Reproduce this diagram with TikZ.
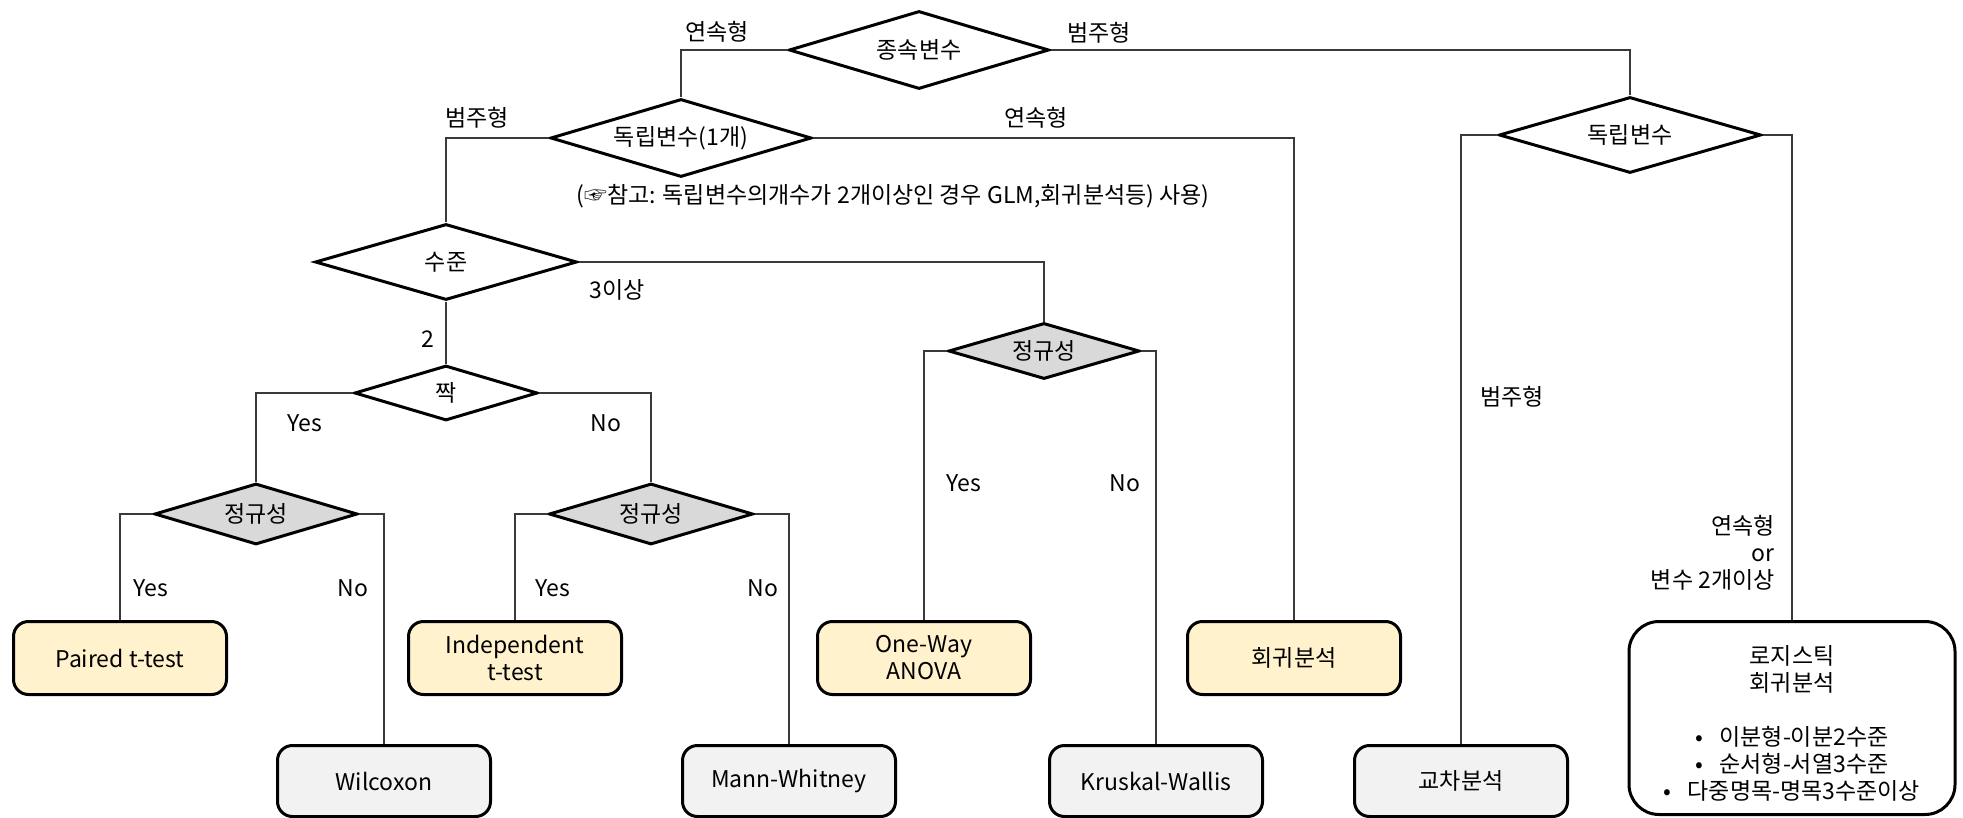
\documentclass[tikz,border=0pt]{standalone}
\usepackage{fontspec}
\setmainfont{Noto Sans CJK KR}
\usetikzlibrary{shapes.geometric}
\definecolor{leafy}{HTML}{FFF2CC}
\definecolor{leafg}{HTML}{F2F2F2}
\definecolor{dgray}{HTML}{D9D9D9}
\definecolor{conncol}{HTML}{3A3A3A}
\begin{document}
\begin{tikzpicture}[x=0.5pt,y=-0.5pt,
  font=\fontsize{11.5}{13.5}\selectfont,
  dec/.style={diamond, draw=black, line width=1.5pt, inner sep=0pt, aspect=3.3, fill=white},
  decg/.style={dec, fill=dgray},
  leafbox/.style={rectangle, rounded corners=7.5pt, draw=black, line width=1.5pt,
    minimum width=106.5pt, minimum height=36.5pt, align=center, inner sep=0pt},
  yleaf/.style={leafbox, fill=leafy},
  gleaf/.style={leafbox, fill=leafg, minimum height=35.5pt},
  conn/.style={draw=conncol, line width=0.7pt},
  lbl/.style={inner sep=0pt}]
\useasboundingbox (0,0) rectangle (1963,818);

% decision diamonds
\node[dec, minimum width=130pt, minimum height=39pt] (d0) at (919,50) {종속변수};
\node[dec, minimum width=130.5pt, minimum height=39pt] (d1) at (681,138) {독립변수(1개)};
\node[dec, minimum width=131pt, minimum height=38pt] (d2) at (1630,135) {독립변수};
\node[dec, minimum width=131pt, minimum height=38pt] (d3) at (446,262) {수준};
\node[dec, minimum width=91.5pt, minimum height=27.5pt] (d4) at (446,393) {짝};
\node[decg, minimum width=101.5pt, minimum height=30.5pt] (n1) at (256,514) {정규성};
\node[decg, minimum width=102pt, minimum height=30.5pt] (n2) at (651,514) {정규성};
\node[decg, minimum width=95.5pt, minimum height=28pt] (n3) at (1044,351) {정규성};

% leaves
\node[yleaf] (paired) at (120,658) {Paired t-test};
\node[yleaf] (indep) at (515,658) {Independent\\t-test};
\node[yleaf] (oneway) at (924,658) {One-Way\\ANOVA};
\node[yleaf] (reg) at (1294,658) {회귀분석};
\node[gleaf] (wilc) at (384,781) {Wilcoxon};
\node[gleaf] (mann) at (789,781) {Mann-Whitney};
\node[gleaf] (krus) at (1156,781) {Kruskal-Wallis};
\node[gleaf] (cross) at (1461,781) {교차분석};
\node[leafbox, rounded corners=15pt, fill=white, minimum width=163pt, minimum height=96.5pt]
  (logit) at (1792,718) {\rule{0pt}{15pt}로지스틱\\회귀분석\\[13.5pt]•\hspace{0.7em}이분형-이분2수준\\•\hspace{0.7em}순서형-서열3수준\\•\hspace{0.7em}다중명목-명목3수준이상};

% connectors
\draw[conn] (d0.west) -| (d1.north);
\draw[conn] (d0.east) -| (d2.north);
\draw[conn] (d1.west) -| (d3.north);
\draw[conn] (d1.east) -| (reg.north);
\draw[conn] (d2.west) -| (cross.north);
\draw[conn] (d2.east) -| (logit.north);
\draw[conn] (d3.east) -| (n3.north);
\draw[conn] (d3.south) -- (d4.north);
\draw[conn] (d4.west) -| (n1.north);
\draw[conn] (d4.east) -| (n2.north);
\draw[conn] (n1.west) -| (paired.north);
\draw[conn] (n1.east) -| (wilc.north);
\draw[conn] (n2.west) -| (indep.north);
\draw[conn] (n2.east) -| (mann.north);
\draw[conn] (n3.west) -| (oneway.north);
\draw[conn] (n3.east) -| (krus.north);

% labels
\node[lbl] (l1) at (717,32) {연속형};
\node[lbl] (l2) at (1099,33) {범주형};
\node[lbl] (l3) at (477,118) {범주형};
\node[lbl] (l4) at (1036,118) {연속형};
\node[lbl] (note) at (893,196) {(☞참고: 독립변수의개수가 2개이상인 경우 GLM,회귀분석등) 사용)};
\node[lbl] (l5) at (617,290) {3이상};
\node[lbl] (l6) at (428,339) {2};
\node[lbl] (y1) at (305,423) {Yes};
\node[lbl] (no1) at (606,423) {No};
\node[lbl] (y2) at (151,588) {Yes};
\node[lbl] (no2) at (353,588) {No};
\node[lbl] (y3) at (553,588) {Yes};
\node[lbl] (no3) at (763,588) {No};
\node[lbl] (y4) at (964,483) {Yes};
\node[lbl] (no4) at (1125,483) {No};
\node[lbl] (l7) at (1512,397) {범주형};
\node[lbl, align=right, anchor=east] (l8) at (1775,553) {연속형\\or\\변수 2개이상};
\end{tikzpicture}
\end{document}
